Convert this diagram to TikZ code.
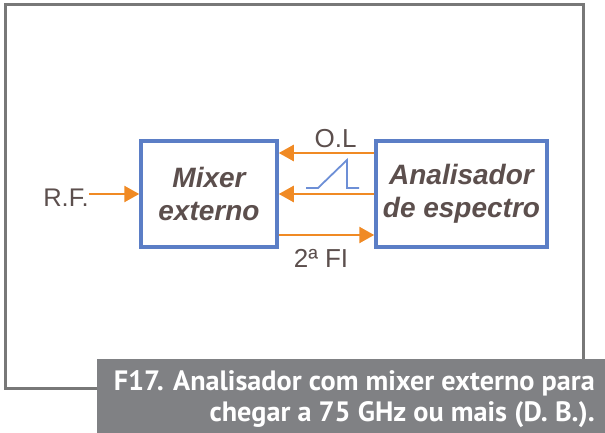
\documentclass[tikz,border=0pt]{standalone}
\usepackage{fontspec}
\setmainfont{Liberation Sans}
\newfontfamily\capfont{PT Sans}
\usetikzlibrary{arrows.meta}
\definecolor{orng}{HTML}{F08A24}
\definecolor{bluebox}{HTML}{5B7EC6}
\definecolor{bluesym}{HTML}{6D8FD6}
\definecolor{txt}{HTML}{5C4F4D}
\definecolor{frm}{HTML}{787878}
\definecolor{capbg}{HTML}{808184}
\newsavebox\capboxa
\newlength\capwd
\newcommand\capfontsel{\capfont\bfseries\fontsize{28}{32}\selectfont}
\begin{document}
\sbox\capboxa{\capfontsel F17. Analisador com mixer externo para}%
\setlength\capwd{\wd\capboxa}%
\pgfmathsetmacro{\capsx}{481/\the\capwd}%
\begin{tikzpicture}[x=1pt,y=-1pt,
  blk/.style={draw=bluebox, line width=3.5pt, fill=white, inner sep=0pt,
    minimum height=106pt, align=center, text=txt,
    font=\fontsize{28}{33}\selectfont\bfseries\itshape},
  sig/.style={draw=orng, line width=2.5pt, -{Triangle[length=15pt,width=16pt]}},
  lbl/.style={text=txt, inner sep=0pt, font=\fontsize{26}{30}\selectfont},
  captxt/.style={text=white, inner sep=0pt, anchor=base east}]
\useasboundingbox (0,0) rectangle (605,433);
% outer frame
\draw[frm, line width=3pt] (97,388) -- (5.5,388) -- (5.5,4.5) -- (583,4.5) -- (583,362);
% caption
\node[fill=capbg, minimum width=508pt, minimum height=74pt, anchor=north west, inner sep=0pt] (cap) at (97,359) {};
\node[captxt] (cap1) at (595,390) {\scalebox{\capsx}[1]{\capfontsel F17. Analisador com mixer externo para}};
\node[captxt] (cap2) at (595,421) {\scalebox{\capsx}[1]{\capfontsel chegar a 75 GHz ou mais (D. B.).}};
% blocks
\node[blk, minimum width=136pt] (mx) at (209,194) {Mixer\\externo};
\node[blk, minimum width=171pt] (an) at (461.5,194) {Analisador\\de espectro};
% labels
\node[lbl, anchor=base, font=\fontsize{25.5}{30}\selectfont] (rf) at (66,206) {R.F.};
\node[lbl, anchor=base] (ol) at (335.5,147) {O.L};
\node[lbl, anchor=base] (fi) at (321,267) {2ª FI};
% connectors
\draw[sig] (rf.east |- 0,194) -- (mx.west |- 0,194);
\draw[sig] (an.west |- 0,153) -- (mx.east |- 0,153);
\draw[sig] (an.west |- 0,194) -- (mx.east |- 0,194);
\draw[sig] (mx.east |- 0,235) -- (an.west |- 0,235);
% ramp symbol
\draw[bluesym, line width=1.8pt] (306,188) -- (318,188) -- (347,160) -- (347,188) -- (359,188);
\end{tikzpicture}
\end{document}
